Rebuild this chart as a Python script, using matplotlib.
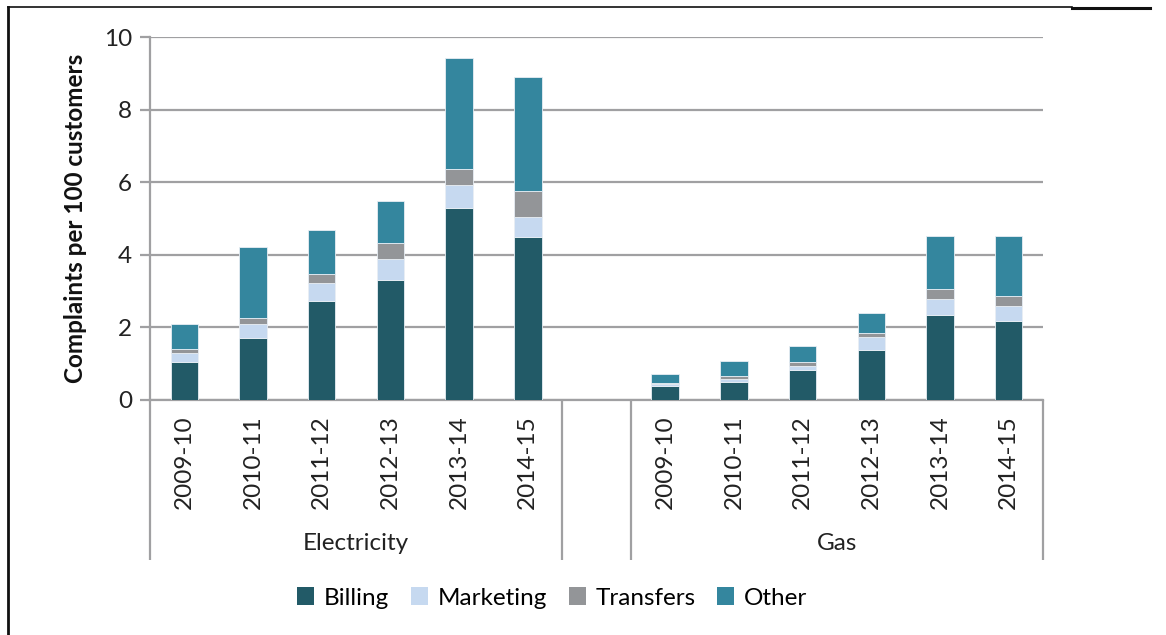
"""
Stacked bar chart of complaints per 100 customers, electricity vs gas
"""
import matplotlib
matplotlib.use("Agg")
import matplotlib.pyplot as plt
from matplotlib.lines import Line2D
from matplotlib.patches import Patch

plt.rcParams['font.family'] = ['Lato', 'DejaVu Sans']

years = ["2009-10", "2010-11", "2011-12", "2012-13", "2013-14", "2014-15"]
groups = ["Electricity", "Gas"]

# electricity stacks
elec_billing = [1.06, 1.71, 2.74, 3.31, 5.30, 4.50]
elec_marketing = [0.24, 0.37, 0.47, 0.58, 0.62, 0.53]
elec_transfers = [0.10, 0.18, 0.26, 0.43, 0.44, 0.73]
elec_other = [0.69, 1.96, 1.22, 1.17, 3.06, 3.14]

# gas stacks
gas_billing = [0.38, 0.49, 0.83, 1.39, 2.34, 2.19]
gas_marketing = [0.05, 0.10, 0.12, 0.35, 0.45, 0.40]
gas_transfers = [0.04, 0.07, 0.11, 0.11, 0.27, 0.27]
gas_other = [0.26, 0.41, 0.42, 0.54, 1.45, 1.67]

series_names = ["Billing", "Marketing", "Transfers", "Other"]
colors = ["#225a67", "#c6d9f0", "#939598", "#34869e"]

W, H = 1166, 635
fig = plt.figure(figsize=(W / 100, H / 100), dpi=100)
ax = fig.add_axes([150 / W, 1 - 400 / H, (1043 - 150) / W, (400 - 37) / H])

# positions: 6 electricity slots, one empty slot, 6 gas slots
elec_x = list(range(6))
gas_x = [i + 7 for i in range(6)]

stacks = [
    (elec_x, [elec_billing, elec_marketing, elec_transfers, elec_other]),
    (gas_x, [gas_billing, gas_marketing, gas_transfers, gas_other]),
]
for xs, parts in stacks:
    bottom = [0.0] * len(xs)
    for vals, col in zip(parts, colors):
        ax.bar(xs, vals, bottom=bottom, width=0.4, color=col,
               edgecolor="#e8eef4", linewidth=0.6, zorder=3)
        bottom = [b + v for b, v in zip(bottom, vals)]

ax.set_xlim(-0.5, 12.5)
ax.set_ylim(0, 10)
ax.set_yticks(range(0, 11, 2))
ax.yaxis.grid(True, color="#a0a0a2", linewidth=1.6, zorder=0)
ax.set_axisbelow(True)

for side in ["top", "right"]:
    ax.spines[side].set_visible(False)
for side in ["left", "bottom"]:
    ax.spines[side].set_color("#a0a0a2")
    ax.spines[side].set_linewidth(1.6)

ax.tick_params(axis="y", length=7, width=1.6, color="#a0a0a2",
               labelsize=17.5, labelcolor="#222222", pad=6)

ax.set_xticks(elec_x + gas_x)
ax.set_xticklabels(years + years, rotation=90, fontsize=17.5, color="#222222")
ax.tick_params(axis="x", which="major", length=0, pad=11)
ax.set_xticks([-0.5, 5.5, 6.5, 12.5], minor=True)
ax.tick_params(axis="x", which="minor", length=115, width=1.6, color="#a0a0a2")

for label, cx in zip(groups, [2.5, 9.5]):
    ax.annotate(label, xy=(cx, 0), xycoords=("data", "axes fraction"),
                xytext=(0, -103), textcoords="offset points",
                ha="center", va="center", fontsize=17.5, color="#222222")

ax.set_ylabel("Complaints per 100 customers", fontsize=17.5,
              fontweight="bold", color="#111111", labelpad=12)

handles = [Patch(facecolor=c, edgecolor="none") for c in colors]
fig.legend(handles, series_names, loc="center", bbox_to_anchor=(552 / W, 1 - 598 / H),
           ncol=4, frameon=False, fontsize=17.5, handlelength=0.7,
           handleheight=0.7, handletextpad=0.4, columnspacing=0.9)

# outer frame fragments
fig.add_artist(Line2D([8 / W, 1072 / W], [1 - 7 / H, 1 - 7 / H],
                      color="#111111", linewidth=1.2))
fig.add_artist(Line2D([1072 / W, 1150 / W], [1 - 8 / H, 1 - 8 / H],
                      color="#111111", linewidth=2.2))
fig.add_artist(Line2D([8 / W, 8 / W], [1 - 7 / H, 0],
                      color="#111111", linewidth=2.0))

fig.savefig("out.png", dpi=100)
